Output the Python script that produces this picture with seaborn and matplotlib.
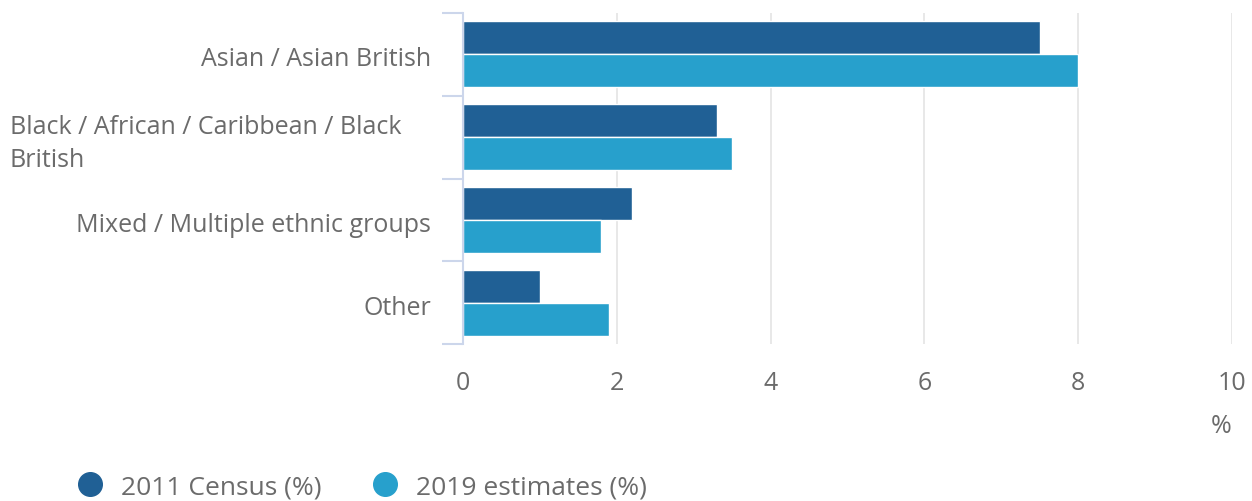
import seaborn as sns
import pandas as pd
import matplotlib.pyplot as plt
from matplotlib.lines import Line2D
from matplotlib.transforms import ScaledTranslation

# data
groups = ['Asian / Asian British', 'Black / African / Caribbean / Black\nBritish',
          'Mixed / Multiple ethnic groups', 'Other']
census_2011 = [7.5, 3.3, 2.2, 1.0]
estimates_2019 = [8.0, 3.5, 1.8, 1.9]
series_names = ['2011 Census (%)', '2019 estimates (%)']
colors = ['#206095', '#27a0cc']

df = pd.DataFrame({
    'group': groups * 2,
    'value': census_2011 + estimates_2019,
    'series': [series_names[0]] * 4 + [series_names[1]] * 4,
})

sns.set_style('white')
plt.rcParams['font.family'] = ['Open Sans', 'DejaVu Sans']
text_col = '#6b6b6b'
axis_col = '#ccd6eb'
fs = 18

fig = plt.figure(figsize=(12.52, 5.02), dpi=100)
ax = fig.add_axes([463 / 1252, 1 - 345 / 502, (1232 - 463) / 1252, (345 - 14) / 502])

sns.barplot(data=df, x='value', y='group', hue='series', palette=colors,
            saturation=1, orient='h', width=0.8, edgecolor='white', linewidth=1,
            ax=ax, legend=False)

ax.set_xlim(0, 10)
ax.set_ylim(3.5, -0.5)
ax.set_xticks([0, 2, 4, 6, 8, 10])
ax.xaxis.grid(True, color='#e6e6e6', linewidth=1.3)
ax.set_axisbelow(True)

for s in ['top', 'right', 'bottom']:
    ax.spines[s].set_visible(False)
ax.spines['left'].set_color(axis_col)
ax.spines['left'].set_linewidth(1.5)

ax.tick_params(axis='x', length=0, pad=19, labelsize=fs, labelcolor=text_col)
ax.tick_params(axis='y', which='major', length=0, pad=23, labelsize=fs, labelcolor=text_col)
ax.set_yticks([-0.5, 0.5, 1.5, 2.5, 3.5], minor=True)
ax.tick_params(axis='y', which='minor', length=15, width=1.5, color=axis_col, left=True)
for lab in ax.get_yticklabels():
    lab.set_multialignment('left')
    lab.set_linespacing(1.4)
    if '\n' in lab.get_text():
        # wrapped label sits further left, as in the original
        lab.set_transform(lab.get_transform() + ScaledTranslation(-0.30, 0.01, fig.dpi_scale_trans))
    else:
        lab.set_transform(lab.get_transform() + ScaledTranslation(0, -0.015, fig.dpi_scale_trans))

ax.set_ylabel('')
ax.set_xlabel('%', fontsize=fs, color=text_col, loc='right', labelpad=13)

handles = [Line2D([], [], marker='o', linestyle='', markersize=17,
                  markerfacecolor=c, markeredgecolor=c) for c in colors]
fig.legend(handles, series_names, loc='center left', bbox_to_anchor=(0.061, 1 - 488 / 502),
           ncol=2, frameon=False, fontsize=19, labelcolor=text_col,
           handletextpad=0.68, columnspacing=1.90, handlelength=1.0,
           borderaxespad=0, borderpad=0)

fig.savefig('out.png', dpi=100)
